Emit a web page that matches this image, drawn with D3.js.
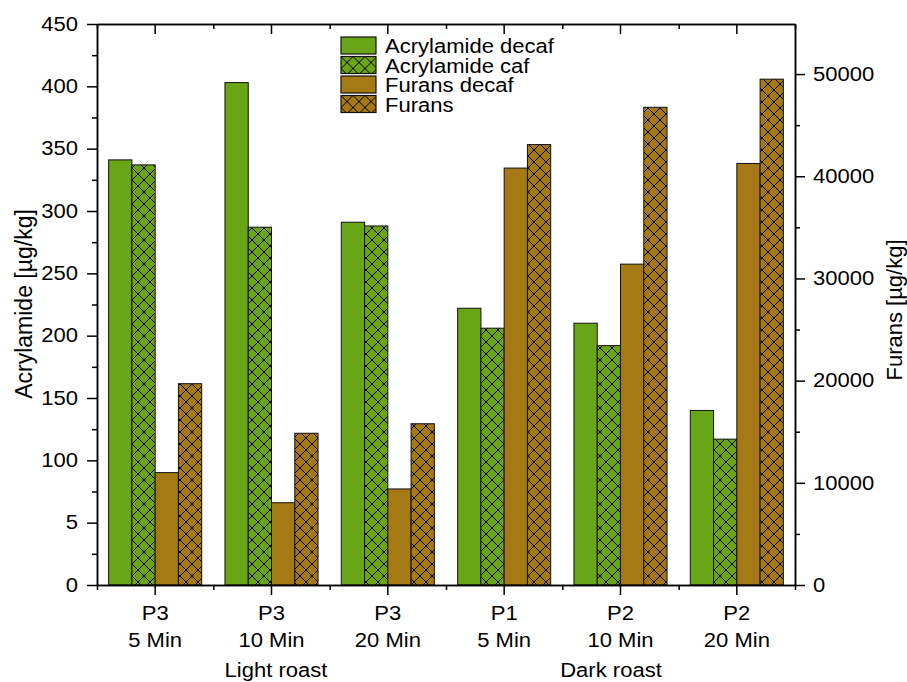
<!DOCTYPE html>
<html>
<head>
<meta charset="utf-8">
<script src="https://cdn.jsdelivr.net/npm/d3@7"></script>
<style>
  body { margin: 0; background: #fff; }
  text { font-family: "Liberation Sans", Arial, sans-serif; fill: #000; }
  .axis path, .axis line { stroke: #000; stroke-width: 1.5; }
</style>
</head>
<body>
<svg id="chart" width="907" height="682"></svg>
<script>
// data
let catTop = ["P3", "P3", "P3", "P1", "P2", "P2"];
let catBottom = ["5 Min", "10 Min", "20 Min", "5 Min", "10 Min", "20 Min"];
let roastLabels = ["Light roast", "Dark roast"];
let acrylDecaf = [341, 403, 291, 222, 210, 140];
let acrylCaf = [337, 287, 288, 206, 192, 117];
let furansDecaf = [11000, 8050, 9400, 40800, 31400, 41250];
let furans = [19700, 14850, 15780, 43100, 46750, 49500];
let leftTicks = [0, 50, 100, 150, 200, 250, 300, 350, 400, 450];
let leftTickLabels = ["0", "5", "100", "150", "200", "250", "300", "350", "400", "450"];
let rightTicks = [0, 10000, 20000, 30000, 40000, 50000];
let seriesNames = ["Acrylamide decaf", "Acrylamide caf", "Furans decaf", "Furans"];

let green = "#69a617", brown = "#a57a15";
let series = [
  {name: seriesNames[0], values: acrylDecaf, axis: "left", color: green, hatch: false},
  {name: seriesNames[1], values: acrylCaf, axis: "left", color: green, hatch: true},
  {name: seriesNames[2], values: furansDecaf, axis: "right", color: brown, hatch: false},
  {name: seriesNames[3], values: furans, axis: "right", color: brown, hatch: true}
];

let plotLeft = 97, plotRight = 795, plotTop = 24, plotBottom = 585;
let font = "'Liberation Sans', Arial, sans-serif";
let sx = 1.13; // the source lettering is a bit wider than plain Arial

let svg = d3.select("#chart");

// widen horizontal text around its anchor point
function stretch(sel) {
  sel.each(function() {
    let t = d3.select(this);
    let x0 = +t.attr("x") || 0, y0 = +t.attr("y") || 0;
    t.attr("x", 0).attr("y", 0)
      .attr("transform", "translate(" + x0 + "," + y0 + ") scale(" + sx + ",1)");
  });
}

// cross hatch patterns
let defs = svg.append("defs");
[["hatchGreen", green], ["hatchBrown", brown]].forEach(function(p) {
  let s = 12;
  let pat = defs.append("pattern")
    .attr("id", p[0])
    .attr("patternUnits", "userSpaceOnUse")
    .attr("width", s).attr("height", s);
  pat.append("rect").attr("width", s).attr("height", s).attr("fill", p[1]);
  pat.append("path")
    .attr("d", "M0,0L" + s + "," + s + "M" + s + ",0L0," + s +
      "M-2,2L2,-2M" + (s - 2) + "," + (s + 2) + "L" + (s + 2) + "," + (s - 2))
    .attr("stroke", "#000").attr("stroke-width", 1);
});

let x = d3.scaleBand().domain(d3.range(catTop.length)).range([plotLeft, plotRight]).padding(0);
let bw = x.bandwidth();
let xs = d3.scaleBand().domain(seriesNames).range([bw * 0.1, bw * 0.9]).padding(0);
let xEdge = d3.scaleLinear().domain([0, catTop.length]).range([plotLeft, plotRight]);

let yL = d3.scaleLinear().domain([0, 450]).range([plotBottom, plotTop]);
let yR = d3.scaleLinear().domain([0, 54900]).range([plotBottom, plotTop]);

function fillOf(s) {
  if (!s.hatch) return s.color;
  return s.color == green ? "url(#hatchGreen)" : "url(#hatchBrown)";
}

// bars
series.forEach(function(s) {
  let y = s.axis == "left" ? yL : yR;
  svg.append("g").selectAll("rect")
    .data(s.values)
    .enter().append("rect")
      .attr("x", function(d, i) { return x(i) + xs(s.name); })
      .attr("y", function(d) { return y(d); })
      .attr("width", xs.bandwidth())
      .attr("height", function(d) { return plotBottom - y(d); })
      .attr("fill", fillOf(s))
      .attr("stroke", "#111")
      .attr("stroke-width", 1);
});

// left axis
svg.append("g").attr("class", "axis")
  .attr("transform", "translate(" + plotLeft + ",0)")
  .call(d3.axisLeft(yL).tickValues(leftTicks).tickSize(10).tickSizeOuter(0).tickPadding(9)
    .tickFormat(function(d, i) { return leftTickLabels[i]; }));
svg.append("g").attr("class", "axis")
  .attr("transform", "translate(" + plotLeft + ",0)")
  .call(d3.axisLeft(yL).tickValues(d3.range(25, 450, 50)).tickSize(5).tickSizeOuter(0).tickFormat(""));

// right axis
svg.append("g").attr("class", "axis")
  .attr("transform", "translate(" + plotRight + ",0)")
  .call(d3.axisRight(yR).tickValues(rightTicks).tickSize(10).tickSizeOuter(0).tickPadding(8)
    .tickFormat(d3.format("d")));
svg.append("g").attr("class", "axis")
  .attr("transform", "translate(" + plotRight + ",0)")
  .call(d3.axisRight(yR).tickValues(d3.range(5000, 55000, 10000)).tickSize(5).tickSizeOuter(0).tickFormat(""));

// bottom axis
svg.append("g").attr("class", "axis")
  .attr("transform", "translate(0," + plotBottom + ")")
  .call(d3.axisBottom(x).tickSize(10).tickSizeOuter(0).tickFormat(""));
svg.append("g").attr("class", "axis")
  .attr("transform", "translate(0," + plotBottom + ")")
  .call(d3.axisBottom(xEdge).tickValues(d3.range(catTop.length + 1)).tickSize(5).tickSizeOuter(0).tickFormat(""));

// top axis, ticks inside
svg.append("g").attr("class", "axis")
  .attr("transform", "translate(0," + plotTop + ")")
  .call(d3.axisTop(x).tickSize(-10).tickSizeOuter(0).tickFormat(""));
svg.append("g").attr("class", "axis")
  .attr("transform", "translate(0," + plotTop + ")")
  .call(d3.axisTop(xEdge).tickValues(d3.range(catTop.length + 1)).tickSize(-5).tickSizeOuter(0).tickFormat(""));

svg.selectAll(".axis text")
  .style("font-family", font)
  .style("font-size", "19.5px")
  .attr("fill", "#000")
  .call(stretch);

// category labels, two lines
[[catTop, 620], [catBottom, 647]].forEach(function(row) {
  svg.append("g").selectAll("text")
    .data(row[0])
    .enter().append("text")
      .attr("text-anchor", "middle")
      .attr("x", function(d, i) { return x(i) + bw / 2; })
      .attr("y", row[1])
      .style("font-family", font)
      .style("font-size", "19.5px")
      .text(function(d) { return d; })
      .call(stretch);
});

svg.append("g").selectAll("text")
  .data(roastLabels)
  .enter().append("text")
    .attr("text-anchor", "middle")
    .attr("x", function(d, i) { return i == 0 ? 276 : 611; })
    .attr("y", 677)
    .style("font-family", font)
    .style("font-size", "19.5px")
    .text(function(d) { return d; })
    .call(stretch);

// axis titles
svg.append("text")
  .attr("transform", "translate(32,304) rotate(-90)")
  .attr("text-anchor", "middle")
  .style("font-family", font)
  .style("font-size", "23px")
  .text("Acrylamide [µg/kg]");
svg.append("text")
  .attr("transform", "translate(902,310) rotate(-90)")
  .attr("text-anchor", "middle")
  .style("font-family", font)
  .style("font-size", "22px")
  .text("Furans [µg/kg]");

// legend
let lg = svg.append("g").selectAll("g")
  .data(series)
  .enter().append("g")
    .attr("transform", function(d, i) { return "translate(341," + (37 + i * 19.5) + ")"; });
lg.append("rect")
  .attr("width", 35).attr("height", 17)
  .attr("fill", fillOf)
  .attr("stroke", "#111").attr("stroke-width", 1.2);
lg.append("text")
  .attr("x", 44).attr("y", 16)
  .style("font-family", font)
  .style("font-size", "19.5px")
  .text(function(d) { return d.name; })
  .call(stretch);
</script>
</body>
</html>
